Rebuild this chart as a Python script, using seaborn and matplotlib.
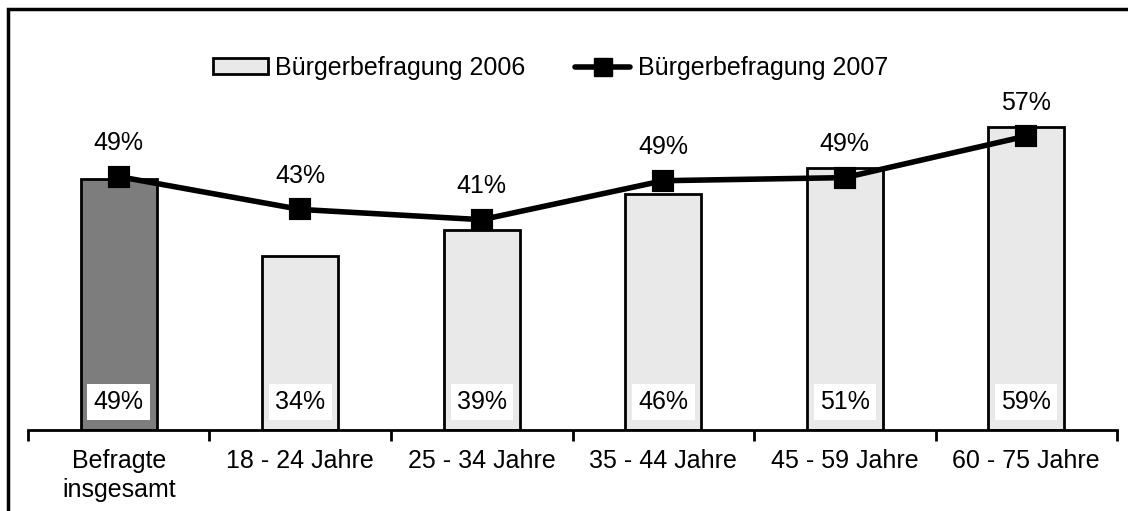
import numpy as np
import seaborn as sns
import matplotlib
matplotlib.use("Agg")
from matplotlib import pyplot as plt
from matplotlib.patches import Patch, Rectangle
from matplotlib.lines import Line2D

# Data
categories = ["Befragte\ninsgesamt", "18 - 24 Jahre", "25 - 34 Jahre",
              "35 - 44 Jahre", "45 - 59 Jahre", "60 - 75 Jahre"]
survey_2006 = [49, 34, 39, 46, 51, 59]
survey_2007 = [49.4, 43.0, 41.0, 48.6, 49.2, 57.3]
series_names = ["Bürgerbefragung 2006", "Bürgerbefragung 2007"]

bar_colors = ["#7d7d7d"] + ["#e9e9e9"] * 5

sns.set_style("white")
plt.rcParams["font.family"] = ["Liberation Sans", "DejaVu Sans"]
plt.rcParams["text.color"] = "black"
plt.rcParams["xtick.color"] = "black"

fig = plt.figure(figsize=(11.28, 5.11), dpi=100)
ax = fig.add_axes([0.0248, 0.1585, 0.9655, 0.7027])

sns.barplot(x=categories, y=survey_2006, hue=categories, palette=bar_colors,
            width=0.42, edgecolor="black", linewidth=2, legend=False, ax=ax)
sns.pointplot(x=categories, y=survey_2007, color="black", markers="s",
              markersize=13, linewidth=4, ax=ax)

ax.set_xlim(-0.5, 5.5)
ax.set_ylim(0, 70)
ax.set_yticks([])
ax.set_ylabel("")
for side in ["left", "top", "right"]:
    ax.spines[side].set_visible(False)
ax.spines["bottom"].set_linewidth(2)
ax.spines["bottom"].set_color("black")

# category labels with tick marks at the boundaries
ax.set_xticks(range(len(categories)))
ax.set_xticklabels(categories, fontsize=18, linespacing=1.25, color="black")
ax.set_xticks(np.arange(-0.5, len(categories), 1), minor=True)
ax.tick_params(axis="x", which="major", length=0, pad=14)
ax.tick_params(axis="x", which="minor", length=8, width=2, color="black",
               direction="out", bottom=True)

# value labels: 2006 inside the bars, 2007 above the line
for i, v in enumerate(survey_2006):
    ax.annotate(f"{v:.0f}%", (i, 0), xytext=(0, 20), textcoords="offset points",
                ha="center", va="center", fontsize=18, color="black",
                bbox=dict(boxstyle="square,pad=0.25", fc="white", ec="none"))
for i, v in enumerate(survey_2007):
    ax.annotate(f"{v:.0f}%", (i, v), xytext=(0, 24), textcoords="offset points",
                ha="center", va="center", fontsize=18, color="black")

handles = [
    Patch(facecolor="#e9e9e9", edgecolor="black", linewidth=2),
    Line2D([0], [0], color="black", linewidth=4, marker="s", markersize=13),
]
fig.legend(handles, series_names, loc="center", bbox_to_anchor=(0.488, 0.867),
           ncol=2, frameon=False, fontsize=18, handlelength=2.2,
           handleheight=0.6, handletextpad=0.3, columnspacing=2.0,
           labelcolor="black")

# outer frame (only left and top edges fall inside the picture)
fig.add_artist(Rectangle((0.0071, -0.1), 1.2, 1.082, transform=fig.transFigure,
                         fill=False, edgecolor="black", linewidth=2.5,
                         clip_on=False))

fig.savefig("out.png", dpi=100)
